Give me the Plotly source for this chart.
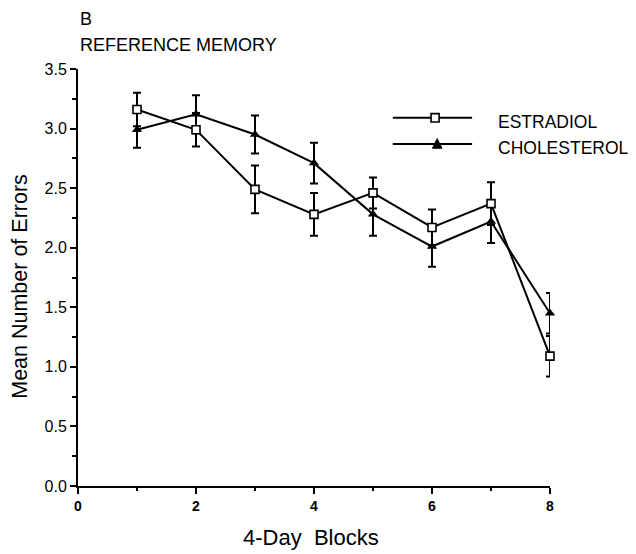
import plotly.graph_objects as go

blocks = [1, 2, 3, 4, 5, 6, 7, 8]
estradiol = [3.16, 2.99, 2.49, 2.28, 2.46, 2.17, 2.37, 1.09]
estradiol_err = [0.14, 0.14, 0.20, 0.18, 0.13, 0.15, 0.18, 0.17]
cholesterol = [2.99, 3.12, 2.95, 2.71, 2.28, 2.01, 2.22, 1.45]
cholesterol_err = [0.15, 0.16, 0.16, 0.17, 0.18, 0.17, 0.18, 0.17]
x_ticks = [0, 2, 4, 6, 8]
y_ticks = [0.0, 0.5, 1.0, 1.5, 2.0, 2.5, 3.0, 3.5]

FONT = "Liberation Sans, Arial, Helvetica, sans-serif"

fig = go.Figure()
fig.add_trace(go.Scatter(
    x=blocks, y=cholesterol, name="CHOLESTEROL", mode="lines+markers",
    line=dict(color="black", width=2), cliponaxis=False,
    marker=dict(symbol="triangle-up", size=9, color="black"),
    error_y=dict(type="data", array=cholesterol_err, color="black", thickness=2, width=4),
))
fig.add_trace(go.Scatter(
    x=blocks, y=estradiol, name="ESTRADIOL", mode="lines+markers",
    line=dict(color="black", width=2), cliponaxis=False,
    marker=dict(symbol="square", size=8, color="white", line=dict(color="black", width=1.6)),
    error_y=dict(type="data", array=estradiol_err, color="black", thickness=2, width=4),
))

fig.update_layout(
    width=628, height=546,
    margin=dict(l=70, r=86, t=61, b=68),
    paper_bgcolor="white", plot_bgcolor="white",
    showlegend=False,
    font=dict(family=FONT, color="black"),
    xaxis=dict(
        range=[0, 8], tickvals=x_ticks, ticktext=[str(v) for v in x_ticks],
        showgrid=False, zeroline=False, showline=True, linecolor="black", linewidth=2,
        ticks="outside", ticklen=6, tickwidth=1.5, tickcolor="black",
        tickfont=dict(size=14, family=FONT, weight="bold"),
        minor=dict(dtick=1, ticks="outside", ticklen=3, tickwidth=1.5, tickcolor="black"),
    ),
    yaxis=dict(
        range=[0, 3.5], tickvals=y_ticks, ticktext=[f"{v:.1f}" for v in y_ticks],
        showgrid=False, zeroline=False, showline=True, linecolor="black", linewidth=2,
        ticks="outside", ticklen=6, tickwidth=1.5, tickcolor="black",
        tickfont=dict(size=16, family=FONT),
        minor=dict(dtick=0.25, ticks="outside", ticklen=4, tickwidth=1.5, tickcolor="black"),
    ),
)

ann = [
    dict(text="B", x=0, y=1.119, xanchor="left", yanchor="middle", font=dict(size=18)),
    dict(text="REFERENCE MEMORY", x=0, y=1.058, xanchor="left", yanchor="middle", font=dict(size=18)),
    dict(text="Mean Number of Errors", x=-0.123, y=0.48, textangle=-90, xanchor="center",
         yanchor="middle", font=dict(size=21.5)),
    dict(text="4-Day\u00a0 Blocks", x=0.494, y=-0.1247, xanchor="center", yanchor="middle",
         font=dict(size=22)),
    dict(text="ESTRADIOL", x=0.886, y=0.873, xanchor="left", yanchor="middle", font=dict(size=17.5)),
    dict(text="CHOLESTEROL", x=0.886, y=0.811, xanchor="left", yanchor="middle", font=dict(size=17.5)),
]
for a in ann:
    a.update(xref="paper", yref="paper", showarrow=False)
    fig.add_annotation(**a)

# manual legend samples
fig.add_shape(type="line", xref="paper", yref="paper", x0=0.667, x1=0.835, y0=0.883, y1=0.883,
              line=dict(color="black", width=2))
fig.add_shape(type="line", xref="paper", yref="paper", x0=0.667, x1=0.835, y0=0.820, y1=0.820,
              line=dict(color="black", width=2))
fig.add_shape(type="rect", xref="paper", yref="paper", x0=0.748, x1=0.765, y0=0.873, y1=0.893,
              fillcolor="white", line=dict(color="black", width=1.6))
fig.add_shape(type="path", xref="paper", yref="paper",
              path="M 0.751,0.810 L 0.771,0.810 L 0.761,0.833 Z",
              fillcolor="black", line=dict(color="black", width=1))

fig.write_html("out.html")
